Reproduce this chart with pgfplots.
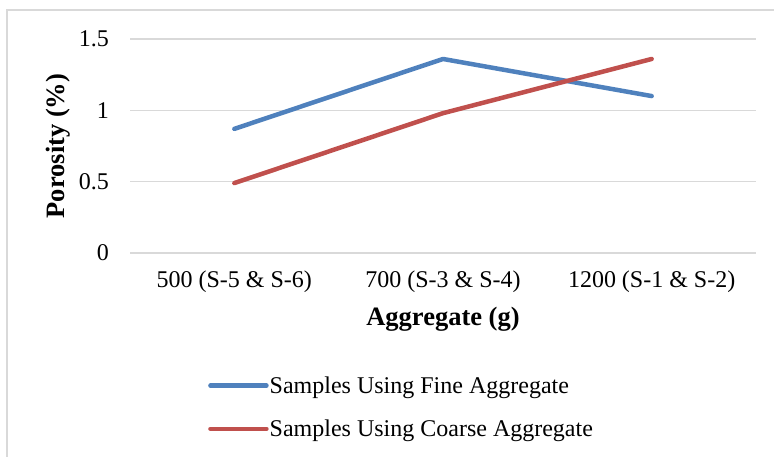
\documentclass[border=0pt]{standalone}
\usepackage{fontspec}
\setmainfont{Liberation Serif}
\usepackage{pgfplots}
\pgfplotsset{compat=1.18}
\definecolor{fineblue}{HTML}{4F81BD}
\definecolor{coarsered}{HTML}{C0504D}
\definecolor{gridgray}{HTML}{D9D9D9}
\begin{document}
\begin{tikzpicture}[x=1pt,y=1pt]
\useasboundingbox (0,0) rectangle (774,457);
\draw[gridgray, line width=1.2pt] (7,-5) -- (7,447) -- (780,447);
\begin{axis}[
 at={(130pt,204pt)}, anchor=south west,
 scale only axis, width=626pt, height=214pt,
 xmin=-0.5, xmax=2.5, ymin=0, ymax=1.5,
 xtick={0,1,2},
 xticklabels={500 (S-5 \& S-6), 700 (S-3 \& S-4), 1200 (S-1 \& S-2)},
 ytick={0,0.5,1,1.5},
 axis line style={draw=none},
 major tick length=0pt,
 ymajorgrids, grid style={gridgray, line width=1.3pt},
 /pgf/number format/assume math mode=true,
 tick label style={font=\fontsize{24}{28}\selectfont},
 yticklabel style={anchor=east, xshift=-21pt, inner sep=0pt},
 xticklabel style={anchor=north, yshift=-18pt, inner sep=0pt},
 xlabel={Aggregate (g)}, ylabel={Porosity (\%)},
 label style={font=\bfseries\fontsize{26.5}{30}\selectfont},
 xlabel style={at={(axis description cs:0.5,-0.31)}, anchor=center},
 ylabel style={at={(axis description cs:-0.114,0.5)}, anchor=center},
 legend cell align=left,
 legend style={at={(axis description cs:0.1246,-0.572)}, anchor=north west,
   draw=none, fill=none, inner sep=0pt, row sep=23pt,
   font=\fontsize{24}{28}\selectfont, nodes={inner sep=1pt}},
 legend image code/.code={\draw[#1, line width=4.5pt, line cap=round] (0pt,0pt) -- (56pt,0pt);},
]
\addplot[fineblue, line width=4.5pt, line cap=round, line join=round] coordinates {(0,0.87) (1,1.36) (2,1.10)};
\addlegendentry{Samples Using Fine Aggregate}
\addplot[coarsered, line width=4.5pt, line cap=round, line join=round] coordinates {(0,0.49) (1,0.98) (2,1.36)};
\addlegendentry{Samples Using Coarse Aggregate}
\end{axis}
\end{tikzpicture}
\end{document}
